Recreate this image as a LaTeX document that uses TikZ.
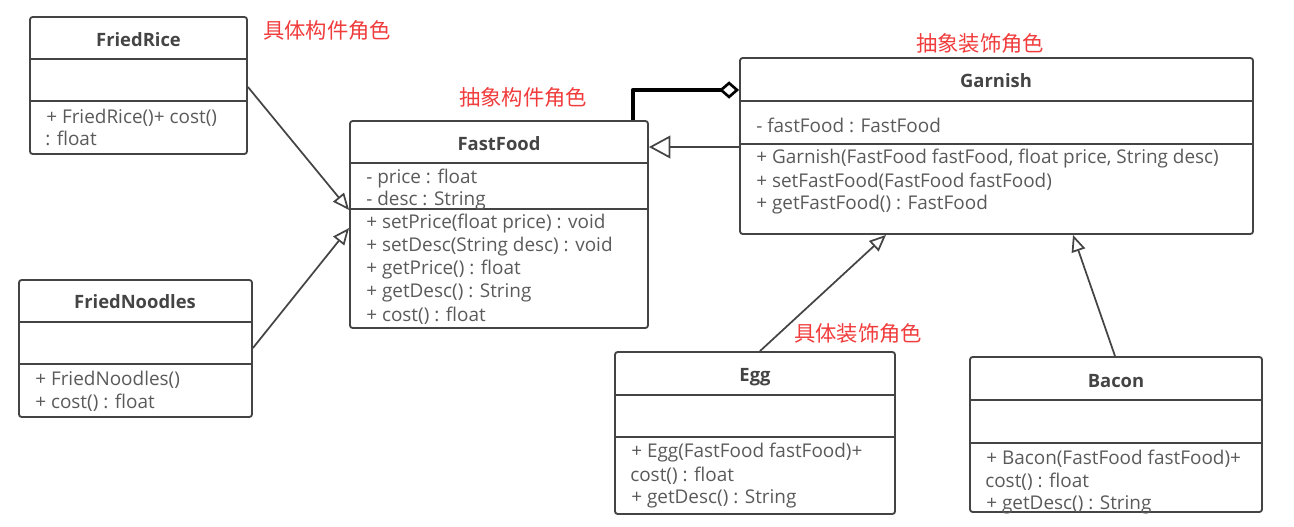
\documentclass[tikz,border=0pt]{standalone}
\usepackage{fontspec}
\setmainfont{Open Sans}
\newfontfamily\cjk{Noto Sans CJK SC}
\usetikzlibrary{arrows.meta,fit}
\definecolor{boxgray}{HTML}{444444}
\definecolor{txtgray}{HTML}{5A5A5A}
\definecolor{rolered}{HTML}{F03C3C}
\tikzset{
  class box/.style={
    draw=boxgray,
    line width=1.4pt,
    rounded corners=2pt,
    inner sep=0pt
  },
  class name/.style={font=\bfseries\fontsize{13.8}{15}\selectfont, text=boxgray},
  member/.style={anchor=west, inner sep=0pt, yshift=-1.2pt, font=\fontsize{14.2}{16}\selectfont, text=txtgray},
  sep line/.style={draw=boxgray, line width=1.4pt},
  role/.style={font=\cjk\fontsize{16}{18}\selectfont, text=rolered},
  inherit/.style={draw=boxgray, line width=1.3pt, -{Triangle[open,length=12.5pt,width=10.5pt]}},
  aggregate/.style={draw=black, line width=3.4pt, line join=round,
    -{Diamond[open,length=15pt,width=13pt,line width=2pt]}}
}

\begin{document}
\begin{tikzpicture}[x=0.75pt,y=-0.75pt]
\useasboundingbox (0,0) rectangle (1294,527);
% class boxes
\node[class box, fit={(30,17) (247,154)}] (fr) {};
\node[class box, fit={(350,121) (648,328)}] (ff) {};
\node[class box, fit={(740,58) (1253,234)}] (gar) {};
\node[class box, fit={(19,280) (252,417)}] (fn) {};
\node[class box, fit={(615,352) (895,514)}] (egg) {};
\node[class box, fit={(970,357) (1262,512)}] (bacon) {};
\foreach \y in {59,101} \draw[sep line] (30,\y) -- (247,\y);
\foreach \y in {163,209} \draw[sep line] (350,\y) -- (648,\y);
\foreach \y in {101,144} \draw[sep line] (740,\y) -- (1253,\y);
\foreach \y in {322,364} \draw[sep line] (19,\y) -- (252,\y);
\foreach \y in {395,437} \draw[sep line] (615,\y) -- (895,\y);
\foreach \y in {400,443} \draw[sep line] (970,\y) -- (1262,\y);
% names
\node[class name] (fr-name) at (138.5,40) {FriedRice};
\node[class name] (ff-name) at (499,144) {FastFood};
\node[class name] (gar-name) at (996,81) {Garnish};
\node[class name] (fn-name) at (135,302) {FriedNoodles};
\node[class name] (egg-name) at (755,377) {Egg};
\node[class name] (bacon-name) at (1116,381) {Bacon};
% members
\node[member] (fr-m1) at (46,116) {+ FriedRice()+ cost()};
\node[member] (fr-m2) at (45,137) {: float};
\node[member] (ff-a1) at (366,177) {- price : float};
\node[member] (ff-a2) at (366,199) {- desc : String};
\foreach \txt [count=\i] in {{+ setPrice(float price) : void},{+ setDesc(String desc) : void},
    {+ getPrice() : float},{+ getDesc() : String},{+ cost() : float}}
  \node[member] (ff-m\i) at (366,199+23*\i) {\txt};
\node[member] (gar-a1) at (756,124) {- fastFood : FastFood};
\foreach \txt [count=\i] in {{+ Garnish(FastFood fastFood, float price, String desc)},
    {+ setFastFood(FastFood fastFood)},{+ getFastFood() : FastFood}}
  \node[member] (gar-m\i) at (756,134+23*\i) {\txt};
\node[member] (fn-m1) at (35,378) {+ FriedNoodles()};
\node[member] (fn-m2) at (35,401) {+ cost() : float};
\node[member] (egg-m1) at (631,451) {+ Egg(FastFood fastFood)+};
\node[member] (egg-m2) at (630,474) {cost() : float};
\node[member] (egg-m3) at (631,497) {+ getDesc() : String};
\node[member] (bacon-m1) at (986,457) {+ Bacon(FastFood fastFood)+};
\node[member] (bacon-m2) at (985,480) {cost() : float};
\node[member] (bacon-m3) at (986,503) {+ getDesc() : String};
% roles
\node[role] (role-cc) at (327,30) {具体构件角色};
\node[role] (role-ac) at (523,97) {抽象构件角色};
\node[role] (role-ad) at (980,43) {抽象装饰角色};
\node[role] (role-cd) at (858,333) {具体装饰角色};
% connectors
\draw[inherit] (fr.east |- 0,87) -- (ff.west |- 0,210);
\draw[inherit] (fn.east |- 0,348) -- (ff.west |- 0,228);
\draw[inherit, -{Triangle[open,length=16pt,width=17pt]}] (gar.west |- 0,147) -- (ff.east |- 0,147);
\draw[inherit] (egg.north -| 760,0) -- (gar.south -| 886,0);
\draw[inherit] (bacon.north -| 1115,0) -- (gar.south -| 1073,0);
\draw[aggregate] (ff.north -| 633,0) |- (gar.west |- 0,90);
\end{tikzpicture}
\end{document}
